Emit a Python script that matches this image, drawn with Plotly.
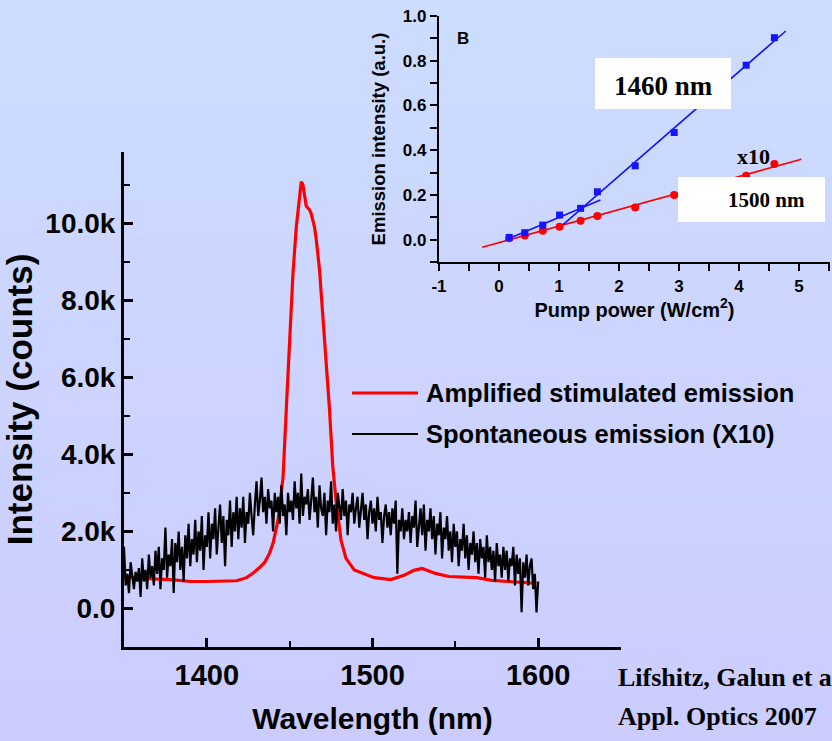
import numpy as np
import plotly.graph_objects as go

W, H = 832, 741

# ---------------- main spectra ----------------
# Amplified stimulated emission (thousands of counts)
asx_wl = [1350, 1360, 1370, 1380, 1390, 1400, 1410, 1418, 1424, 1428,
          1432, 1435, 1438, 1440, 1443, 1445, 1446, 1448, 1450, 1452,
          1454, 1456, 1457, 1458, 1459, 1460, 1462, 1463, 1465, 1466,
          1468, 1470, 1471, 1474, 1476, 1477, 1478, 1481, 1484, 1489,
          1495, 1501, 1511, 1519, 1525, 1530, 1538, 1546, 1563, 1572,
          1582, 1599]
asx_k = [0.82, 0.78, 0.76, 0.74, 0.70, 0.70, 0.71, 0.72, 0.80, 0.92,
         1.07, 1.20, 1.45, 1.70, 2.30, 2.95, 3.40, 5.20, 7.00, 8.70,
         9.90, 10.80, 11.08, 11.00, 10.70, 10.45, 10.35, 10.25, 9.90, 9.60,
         8.80, 7.60, 7.00, 5.20, 3.70, 3.24, 2.80, 1.77, 1.30, 1.00,
         0.90, 0.80, 0.75, 0.86, 0.99, 1.04, 0.91, 0.83, 0.80, 0.73,
         0.70, 0.65]

# Spontaneous emission x10 (thousands of counts), 1 nm steps from 1350 to 1600
spont_wl = np.arange(1350, 1601)
spont_k = [
    1.6, 0.6, 0.9, 0.4, 1.2, 0.8, 0.5, 0.95, 0.7, 1.05,
    0.3, 1.3, 0.7, 1.0, 0.5, 1.4, 0.8, 1.1, 0.6, 1.5,
    0.9, 1.6, 0.5, 1.3, 1.0, 2.1, 0.8, 1.4, 1.1, 1.8,
    0.4, 1.7, 1.2, 2.0, 1.0, 1.6, 0.7, 1.9, 1.3, 2.2,
    1.1, 1.8, 1.4, 2.3, 1.2, 2.0, 1.5, 2.4, 1.0, 1.9,
    1.6, 2.5, 1.3, 2.2, 1.8, 2.6, 1.4, 2.1, 2.7, 1.7,
    2.4, 1.1, 2.3, 1.9, 2.8, 1.6, 2.5, 2.0, 2.9, 1.8,
    2.6, 2.1, 2.9, 1.7, 2.5, 2.2, 3.0, 2.4, 1.9, 2.7,
    3.3, 2.4, 2.8, 3.4, 2.5, 2.9, 2.2, 3.1, 2.6, 2.8,
    2.0, 3.0, 2.5, 2.9, 2.2, 3.2, 2.4, 2.7, 1.9, 3.0,
    2.5, 2.8, 2.3, 3.3, 2.6, 3.0, 2.2, 3.5, 2.4, 2.9,
    2.7, 3.1, 2.3, 2.8, 3.4, 2.5, 2.9, 2.1, 3.2, 2.6,
    2.4, 3.0, 1.9, 2.8, 2.5, 3.3, 2.2, 2.7, 2.0, 3.0,
    2.6, 2.3, 3.1, 2.4, 2.8, 1.9, 2.7, 2.5, 3.0, 2.2,
    2.6, 2.9, 2.1, 2.5, 3.0, 2.3, 2.7, 1.8, 2.5, 2.8,
    2.2, 2.6, 2.0, 2.9, 2.3, 2.5, 1.7, 2.4, 2.7, 2.1,
    2.5, 1.9, 2.6, 2.2, 2.8, 0.9, 2.3, 2.0, 2.6, 1.8,
    2.3, 2.0, 2.5, 1.7, 2.4, 2.1, 2.8, 1.6, 2.2, 2.6,
    1.9, 2.7, 1.5, 2.3, 2.0, 2.6, 1.8, 2.4, 1.4, 2.2,
    1.9, 2.5, 1.3, 2.1, 1.8, 2.4, 1.5, 2.0, 1.2, 2.2,
    1.6, 2.0, 1.1, 1.8, 1.5, 2.2, 1.3, 1.9, 1.0, 1.7,
    1.4, 2.0, 1.2, 1.7, 0.9, 1.8, 1.3, 1.6, 0.8, 1.9,
    1.2, 1.6, 1.0, 1.5, 0.7, 1.7, 1.1, 1.4, 0.8, 1.6,
    1.0, 1.5, 0.7, 1.3, 1.1, 1.6, 0.6, 1.4, 0.9, 1.3,
    -0.1, 1.2, 0.8, 1.4, 0.6, 1.1, 1.3, 0.5, 0.9, -0.1, 0.7,
]

y_tick_vals_k = [0, 2, 4, 6, 8, 10]
y_tick_text = ["0.0", "2.0k", "4.0k", "6.0k", "8.0k", "10.0k"]
x_tick_vals = [1400, 1500, 1600]

# ---------------- inset: emission vs pump ----------------
pump = [0.17, 0.43, 0.73, 1.01, 1.36, 1.64, 2.27, 2.92, 4.12, 4.59]
em_1460 = [0.01, 0.031, 0.065, 0.11, 0.14, 0.214, 0.33, 0.479, 0.78, 0.903]
em_1500 = [0.006, 0.018, 0.04, 0.058, 0.085, 0.106, 0.144, 0.2, 0.286, 0.338]
fit_1460_low_x, fit_1460_low_y = [0.12, 1.69], [0.0, 0.177]
fit_1460_high_x, fit_1460_high_y = [1.01, 4.78], [0.054, 0.933]
fit_1500_x, fit_1500_y = [-0.28, 5.04], [-0.034, 0.359]
inset_x_ticks = [-1, 0, 1, 2, 3, 4, 5]
inset_x_text = ["-1", "0", "1", "2", "3", "4", "5"]

ARIAL = "Liberation Sans, Arial, sans-serif"
TIMES = "Liberation Serif, Times New Roman, serif"
RED = "#ff0000"
BLUE = "#1414ff"


def px(x):
    return x / W


def py(y):
    return 1 - y / H


fig = go.Figure()

fig.add_trace(go.Scatter(
    x=asx_wl, y=np.array(asx_k) * 1000, mode="lines",
    line=dict(color=RED, width=3.2), name="Amplified stimulated emission",
    xaxis="x", yaxis="y"))
fig.add_trace(go.Scatter(
    x=spont_wl, y=np.array(spont_k) * 1000, mode="lines",
    line=dict(color="black", width=2.2), name="Spontaneous emission (X10)",
    xaxis="x", yaxis="y"))

# inset traces
fig.add_trace(go.Scatter(x=fit_1500_x, y=fit_1500_y, mode="lines",
                         line=dict(color=RED, width=1.6), xaxis="x2", yaxis="y2"))
fig.add_trace(go.Scatter(x=fit_1460_low_x, y=fit_1460_low_y, mode="lines",
                         line=dict(color=BLUE, width=1.6), xaxis="x2", yaxis="y2"))
fig.add_trace(go.Scatter(x=fit_1460_high_x, y=fit_1460_high_y, mode="lines",
                         line=dict(color=BLUE, width=1.6), xaxis="x2", yaxis="y2"))
fig.add_trace(go.Scatter(x=pump, y=em_1500, mode="markers",
                         marker=dict(symbol="circle", size=8, color=RED),
                         xaxis="x2", yaxis="y2"))
fig.add_trace(go.Scatter(x=pump, y=em_1460, mode="markers",
                         marker=dict(symbol="square", size=7, color=BLUE),
                         xaxis="x2", yaxis="y2"))

# vertical background gradient, light blue at the top to lavender at the bottom
shapes = []
n_strips = 60
top_rgb = np.array([0xCC, 0xDD, 0xFF])
bot_rgb = np.array([0xCC, 0xCC, 0xFF])
for i in range(n_strips):
    t = (i + 0.5) / n_strips
    c = top_rgb + (bot_rgb - top_rgb) * t
    shapes.append(dict(
        type="rect", xref="paper", yref="paper", layer="below",
        x0=0, x1=1, y0=1 - (i + 1.05) / n_strips, y1=1 - i / n_strips,
        line=dict(width=0),
        fillcolor="rgb(%d,%d,%d)" % tuple(int(round(v)) for v in c)))

# legend samples
shapes.append(dict(type="line", xref="paper", yref="paper",
                   x0=px(352), x1=px(418), y0=py(393), y1=py(393),
                   line=dict(color=RED, width=3.2)))
shapes.append(dict(type="line", xref="paper", yref="paper",
                   x0=px(352), x1=px(418), y0=py(434), y1=py(434),
                   line=dict(color="black", width=2.2)))

# white label boxes in the inset
shapes.append(dict(type="rect", xref="paper", yref="paper", layer="above",
                   x0=px(595), x1=px(731), y0=py(109), y1=py(58),
                   fillcolor="white", line=dict(width=0)))
shapes.append(dict(type="rect", xref="paper", yref="paper", layer="above",
                   x0=px(678), x1=px(825), y0=py(222), y1=py(177),
                   fillcolor="white", line=dict(width=0)))

annotations = [
    dict(text="Amplified stimulated emission", x=px(424), y=py(393),
         xanchor="left", yanchor="middle",
         font=dict(family=ARIAL, size=25.5, color="black", weight="bold")),
    dict(text="Spontaneous emission (X10)", x=px(424), y=py(434),
         xanchor="left", yanchor="middle",
         font=dict(family=ARIAL, size=25.5, color="black", weight="bold")),
    dict(text="1460 nm", x=px(663), y=py(86), xanchor="center", yanchor="middle",
         font=dict(family=TIMES, size=27, color="black", weight="bold")),
    dict(text="1500 nm", x=px(766), y=py(200), xanchor="center", yanchor="middle",
         font=dict(family=TIMES, size=21, color="black", weight="bold")),
    dict(text="x10", x=px(753), y=py(156), xanchor="center", yanchor="middle",
         font=dict(family=TIMES, size=22, color="black", weight="bold")),
    dict(text="B", x=px(463), y=py(38), xanchor="center", yanchor="middle",
         font=dict(family=ARIAL, size=17, color="black", weight="bold")),
    dict(text="Lifshitz, Galun et al.", x=px(616), y=py(677), xanchor="left",
         yanchor="middle",
         font=dict(family=TIMES, size=26, color="black", weight="bold")),
    dict(text="Appl. Optics 2007", x=px(616), y=py(716), xanchor="left",
         yanchor="middle",
         font=dict(family=TIMES, size=26, color="black", weight="bold")),
]
for a in annotations:
    a.update(xref="paper", yref="paper", showarrow=False)

inset_tick_font = dict(family=ARIAL, size=17, color="black", weight="bold")
inset_title_font = dict(family=ARIAL, size=18.5, color="black", weight="bold")

fig.update_layout(
    width=W, height=H,
    margin=dict(l=0, r=0, t=0, b=0),
    paper_bgcolor="#cccfff",
    plot_bgcolor="rgba(0,0,0,0)",
    showlegend=False,
    shapes=shapes,
    annotations=annotations,
    xaxis=dict(
        domain=[px(124), px(621)], anchor="y", range=[1350, 1650],
        tickmode="array", tickvals=x_tick_vals,
        ticks="inside", ticklen=9, tickwidth=2.5, tickcolor="black",
        minor=dict(ticks="inside", tickmode="linear", tick0=1350, dtick=50,
                   ticklen=6, tickwidth=2, tickcolor="black"),
        showline=True, linewidth=3, linecolor="black",
        showgrid=False, zeroline=False, automargin=False,
        tickfont=dict(family=ARIAL, size=29, color="black", weight="bold"),
        title=dict(text="Wavelength (nm)", standoff=19,
                   font=dict(family=ARIAL, size=30, color="black", weight="bold")),
    ),
    yaxis=dict(
        domain=[py(647), py(152)], anchor="x", range=[-1000, 11850],
        tickmode="array", tickvals=[v * 1000 for v in y_tick_vals_k],
        ticktext=y_tick_text,
        ticks="inside", ticklen=9, tickwidth=2.5, tickcolor="black",
        minor=dict(ticks="inside", tickmode="linear", tick0=0, dtick=1000,
                   ticklen=6, tickwidth=2, tickcolor="black"),
        showline=True, linewidth=3, linecolor="black",
        showgrid=False, zeroline=False, automargin=False,
        tickfont=dict(family=ARIAL, size=28, color="black", weight="bold"),
        title=dict(text="Intensity (counts)", standoff=14,
                   font=dict(family=ARIAL, size=35, color="black", weight="bold")),
    ),
    xaxis2=dict(
        domain=[px(439), px(830)], anchor="y2", range=[-1, 5.517],
        tickmode="array", tickvals=inset_x_ticks, ticktext=inset_x_text,
        ticks="outside", ticklen=7, tickwidth=1.8, tickcolor="black",
        minor=dict(ticks="outside", tickmode="linear", tick0=-0.5, dtick=0.5,
                   ticklen=7, tickwidth=1.8, tickcolor="black"),
        showline=True, linewidth=2.2, linecolor="black",
        showgrid=False, zeroline=False, automargin=False,
        tickfont=inset_tick_font,
        title=dict(text="Pump power (W/cm<sup>2</sup>)", standoff=6,
                   font=dict(family=ARIAL, size=20, color="black", weight="bold")),
    ),
    yaxis2=dict(
        domain=[py(262), py(16)], anchor="x2", range=[-0.1, 1.0],
        tickmode="linear", tick0=0, dtick=0.2, tickformat=".1f",
        ticks="outside", ticklen=7, tickwidth=1.8, tickcolor="black",
        minor=dict(ticks="outside", tickmode="linear", tick0=0, dtick=0.1,
                   ticklen=7, tickwidth=1.8, tickcolor="black"),
        showline=True, linewidth=2.2, linecolor="black",
        showgrid=False, zeroline=False, automargin=False,
        tickfont=inset_tick_font,
        title=dict(text="Emission intensity (a.u.)", standoff=12,
                   font=inset_title_font),
    ),
    # top and right frame of the inset with inward ticks
    xaxis3=dict(
        overlaying="x2", anchor="y2", side="top", range=[-1, 5.517],
        tickmode="linear", tick0=-1, dtick=0.5,
        ticks="inside", ticklen=7, tickwidth=1.8, tickcolor="black",
        showticklabels=False, showline=True, linewidth=2.2, linecolor="black",
        showgrid=False, zeroline=False, automargin=False,
    ),
    yaxis3=dict(
        overlaying="y2", anchor="x2", side="right", range=[-0.1, 1.0],
        tickmode="linear", tick0=0, dtick=0.1,
        ticks="inside", ticklen=7, tickwidth=1.8, tickcolor="black",
        showticklabels=False, showline=True, linewidth=2.2, linecolor="black",
        showgrid=False, zeroline=False, automargin=False,
    ),
)

fig.write_html("out.html")
